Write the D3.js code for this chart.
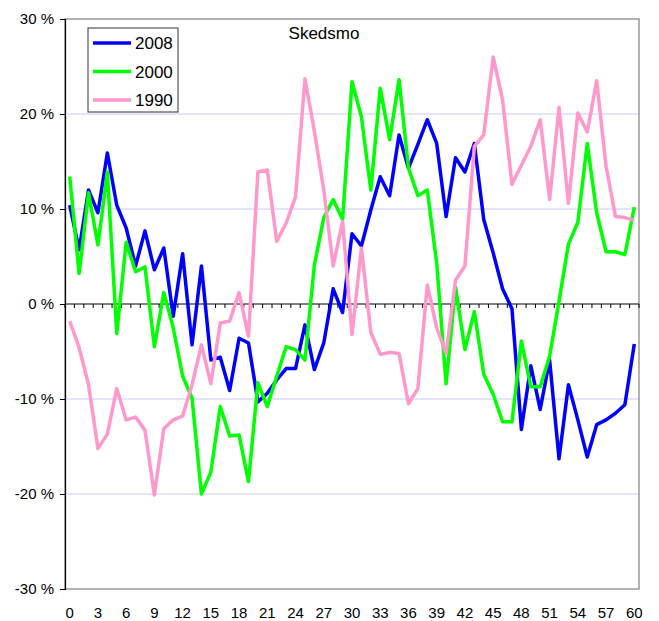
<!DOCTYPE html>
<html>
<head>
<meta charset="utf-8">
<script src="https://cdnjs.cloudflare.com/ajax/libs/d3/7.8.5/d3.min.js"></script>
<style>
    body { margin: 0; background: #fff; }
    svg text { font-family: "Liberation Sans", Arial, sans-serif; fill: #000; }
</style>
</head>
<body>
<svg id="chart" width="659" height="621"></svg>
<script>
var title = 'Skedsmo';
var years = ['2008', '2000', '1990'];
var weeks = d3.range(0, 61);
var x_labels = d3.range(0, 61, 3);
var y_ticks = [-30, -20, -10, 0, 10, 20, 30];

// values in percent, one per week
var s2008 = [10.4, 5.7, 12.0, 9.6, 15.9, 10.4, 8.0, 4.0, 7.7, 3.6,
    5.9, -1.3, 5.3, -4.3, 4.0, -5.9, -5.6, -9.1, -3.6, -4.1,
    -10.3, -9.4, -8.0, -6.8, -6.8, -2.2, -6.9, -4.1, 1.6, -0.9,
    7.4, 6.1, 9.9, 13.4, 11.4, 17.8, 14.3, 16.8, 19.4, 16.9,
    9.2, 15.4, 13.9, 16.9, 8.9, 5.4, 1.6, -0.5, -13.2, -6.5,
    -11.1, -5.9, -16.3, -8.5, -12.2, -16.1, -12.7, -12.2, -11.5, -10.6,
    -4.2];
var s2000 = [13.4, 3.2, 11.7, 6.2, 13.9, -3.1, 6.5, 3.4, 3.9, -4.5,
    1.2, -2.5, -7.6, -9.9, -20.0, -17.7, -10.8, -13.9, -13.8, -18.7,
    -8.3, -10.8, -7.6, -4.5, -4.8, -5.9, 4.1, 9.1, 11.0, 8.9,
    23.4, 19.7, 12.0, 22.7, 17.3, 23.6, 14.3, 11.4, 12.0, 4.3,
    -8.4, 1.8, -4.8, -0.8, -7.4, -9.5, -12.4, -12.4, -3.9, -8.7,
    -8.7, -5.5, 0.3, 6.3, 8.6, 16.9, 9.6, 5.5, 5.5, 5.2,
    10.2];
var s1990 = [-1.8, -4.6, -8.5, -15.2, -13.7, -8.9, -12.2, -11.9, -13.3, -20.1,
    -13.1, -12.2, -11.8, -8.5, -4.3, -8.4, -2.0, -1.8, 1.2, -3.4,
    13.9, 14.1, 6.6, 8.5, 11.3, 23.7, 18.2, 12.0, 4.0, 8.7,
    -3.2, 5.9, -3.0, -5.3, -5.1, -5.2, -10.5, -8.9, 2.0, -2.5,
    -5.2, 2.5, 4.0, 16.6, 17.8, 26.0, 21.5, 12.6, 14.6, 16.6,
    19.4, 11.0, 20.7, 10.6, 20.1, 18.1, 23.5, 14.5, 9.2, 9.1,
    8.8];
var series = [s2008, s2000, s1990];
var color = d3.scaleOrdinal(years, ['#0000ff', '#00ff00', '#ff99cc']);

var svg = d3.select('#chart'),
    m = {left: 65, right: 639, top: 19, bottom: 589};

var x = d3.scaleBand()
    .domain(weeks)
    .range([m.left, m.right])
    .padding(0);

var y = d3.scaleLinear()
    .domain([-30, 30])
    .range([m.bottom, m.top]);

function xc(i) {
    return x(i) + x.bandwidth() / 2;
}

// gridlines
svg.append('g')
    .selectAll('line')
    .data(y_ticks.filter(function (d) { return d !== 0 && Math.abs(d) !== 30; }))
    .enter().append('line')
    .attr('x1', m.left).attr('x2', m.right)
    .attr('y1', function (d) { return y(d); })
    .attr('y2', function (d) { return y(d); })
    .attr('stroke', '#c8c8f4')
    .attr('stroke-width', 1);

// plot frame
svg.append('rect')
    .attr('x', m.left).attr('y', m.top)
    .attr('width', m.right - m.left).attr('height', m.bottom - m.top)
    .attr('fill', 'none')
    .attr('stroke', '#808080')
    .attr('stroke-width', 1.2);

// y axis
var yAxis = svg.append('g')
    .attr('transform', 'translate(' + m.left + ',0)')
    .call(d3.axisLeft(y).tickValues(y_ticks).tickSize(5).tickPadding(6)
        .tickFormat(function (d) { return d + ' %'; }));
yAxis.select('.domain').attr('stroke', '#000').attr('stroke-width', 1.2);
yAxis.selectAll('.tick line').attr('stroke', '#000');
yAxis.selectAll('text').style('font-size', '15px');

// zero axis with ticks between weeks
svg.append('line')
    .attr('x1', m.left).attr('x2', m.right)
    .attr('y1', y(0)).attr('y2', y(0))
    .attr('stroke', '#000').attr('stroke-width', 1.2);
svg.append('g')
    .selectAll('line')
    .data(weeks.concat([61]))
    .enter().append('line')
    .attr('x1', function (d) { return d === 61 ? m.right : x(d); })
    .attr('x2', function (d) { return d === 61 ? m.right : x(d); })
    .attr('y1', y(0)).attr('y2', y(0) + 4)
    .attr('stroke', '#000');

// x labels at the bottom
svg.append('g')
    .selectAll('text')
    .data(x_labels)
    .enter().append('text')
    .attr('x', function (d) { return xc(d); })
    .attr('y', 618)
    .attr('text-anchor', 'middle')
    .style('font-size', '15px')
    .text(function (d) { return d; });

// lines
var line = d3.line()
    .x(function (d, i) { return xc(weeks[i]); })
    .y(function (d) { return y(d); });

svg.append('g')
    .selectAll('path')
    .data(series)
    .enter().append('path')
    .attr('d', line)
    .attr('fill', 'none')
    .attr('stroke', function (d, i) { return color(years[i]); })
    .attr('stroke-width', 3.5)
    .attr('stroke-linejoin', 'round');

// title
svg.append('text')
    .attr('x', 324)
    .attr('y', 39)
    .attr('text-anchor', 'middle')
    .style('font-size', '17px')
    .text(title);

// legend
var lg = svg.append('g');
lg.append('rect')
    .attr('x', 88).attr('y', 28)
    .attr('width', 90).attr('height', 84)
    .attr('fill', '#fff')
    .attr('stroke', '#333')
    .attr('stroke-width', 1);
var items = lg.selectAll('.legend')
    .data(years)
    .enter().append('g')
    .attr('class', 'legend')
    .attr('transform', function (d, i) {
        return 'translate(0,' + (43 + i * 28.5) + ')';
    });
items.append('line')
    .attr('x1', 93).attr('x2', 131)
    .attr('stroke', color)
    .attr('stroke-width', 3.5);
items.append('text')
    .attr('x', 135)
    .attr('y', 6)
    .style('font-size', '17px')
    .text(function (d) { return d; });
</script>
</body>
</html>
